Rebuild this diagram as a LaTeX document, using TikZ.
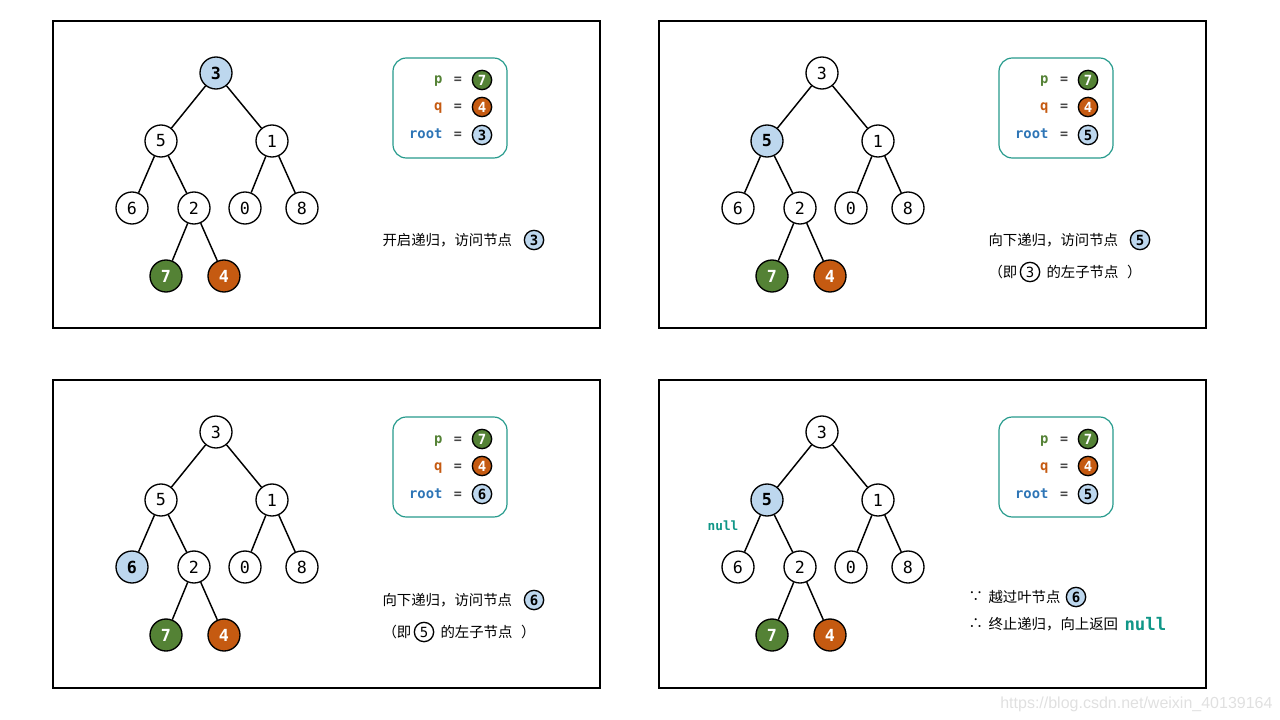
\documentclass[tikz,border=0pt]{standalone}
\usepackage{fontspec}
\setmainfont{Noto Sans CJK SC}
\setmonofont{DejaVu Sans Mono}
\newfontfamily\urlfont{Liberation Sans}
\usetikzlibrary{positioning}

\definecolor{hlblue}{RGB}{189,215,238}
\definecolor{pgreen}{RGB}{84,130,53}
\definecolor{qorange}{RGB}{197,90,17}
\definecolor{boxteal}{RGB}{38,154,140}
\definecolor{rootblue}{RGB}{46,117,182}
\definecolor{nullteal}{RGB}{16,150,135}
\definecolor{eqgray}{RGB}{70,70,70}

\tikzset{every picture/.style={line width=0.75pt}}
\tikzset{
  nd/.style={circle, draw, line width=1pt, fill=white, minimum size=24pt, inner sep=0pt, font=\ttfamily\fontsize{12.5}{14}\selectfont},
  hl/.style={fill=hlblue, font=\ttfamily\bfseries\fontsize{12.5}{14}\selectfont},
  pn/.style={fill=pgreen, text=white, font=\ttfamily\bfseries\fontsize{12.5}{14}\selectfont},
  qn/.style={fill=qorange, text=white, font=\ttfamily\bfseries\fontsize{12.5}{14}\selectfont},
  sm/.style={circle, draw, line width=1pt, fill=white, minimum size=14.5pt, inner sep=0pt, font=\ttfamily\bfseries\fontsize{10.5}{12}\selectfont},
  panel/.style={draw, line width=1.1pt},
  infobox/.style={draw=boxteal, line width=0.9pt, rounded corners=10pt},
  lbl/.style={anchor=base east, inner sep=0pt, font=\ttfamily\bfseries\fontsize{10.4}{12}\selectfont},
  eq/.style={anchor=base, inner sep=0pt, text=eqgray, font=\ttfamily\bfseries\fontsize{10}{12}\selectfont},
  txt/.style={anchor=west, inner sep=0pt, font=\fontsize{10.8}{13}\selectfont},
  edge/.style={line width=1.1pt},
}

\begin{document}
\begin{tikzpicture}[x=0.75pt,y=0.75pt,yscale=-1,xscale=1]
\useasboundingbox (0,0) rectangle (1280,720);

%%% Panel: top left
\draw[panel] (53,21) rectangle (600,328);
% tree
\node[nd, hl] (a3) at (216,73) {3};
\node[nd] (a5) at (161,141) {5};
\node[nd] (a1) at (272,141) {1};
\node[nd] (a6) at (132,208) {6};
\node[nd] (a2) at (194,208) {2};
\node[nd] (a0) at (245,208) {0};
\node[nd] (a8) at (302,208) {8};
\node[nd, pn] (a7) at (166,276) {7};
\node[nd, qn] (a4) at (224,276) {4};
\draw[edge] (a3) -- (a5) (a3) -- (a1) (a5) -- (a6) (a5) -- (a2) (a1) -- (a0) (a1) -- (a8) (a2) -- (a7) (a2) -- (a4);
% info box
\draw[infobox] (393,58) rectangle (507,158);
\node[lbl, text=pgreen] (ap) at (443,84) {p};
\node[eq] (ape) at (458,84) {=};
\node[sm, fill=pgreen, text=white] (apc) at (482,80) {7};
\node[lbl, text=qorange] (aq) at (443,111) {q};
\node[eq] (aqe) at (458,111) {=};
\node[sm, fill=qorange, text=white] (aqc) at (482,107) {4};
\node[lbl, text=rootblue] (ar) at (443,139) {root};
\node[eq] (are) at (458,139) {=};
\node[sm, fill=hlblue] (arc) at (482,135) {3};
% Text Node
\node[txt] (at1) at (382,240) {开启递归，访问节点};
\node[sm, fill=hlblue] (at1c) at (534,240) {3};

%%% Panel: top right
\draw[panel] (659,21) rectangle (1206,328);
% tree
\node[nd] (b3) at (822,73) {3};
\node[nd, hl] (b5) at (767,141) {5};
\node[nd] (b1) at (878,141) {1};
\node[nd] (b6) at (738,208) {6};
\node[nd] (b2) at (800,208) {2};
\node[nd] (b0) at (851,208) {0};
\node[nd] (b8) at (908,208) {8};
\node[nd, pn] (b7) at (772,276) {7};
\node[nd, qn] (b4) at (830,276) {4};
\draw[edge] (b3) -- (b5) (b3) -- (b1) (b5) -- (b6) (b5) -- (b2) (b1) -- (b0) (b1) -- (b8) (b2) -- (b7) (b2) -- (b4);
% info box
\draw[infobox] (999,58) rectangle (1113,158);
\node[lbl, text=pgreen] (bp) at (1049,84) {p};
\node[eq] (bpe) at (1064,84) {=};
\node[sm, fill=pgreen, text=white] (bpc) at (1088,80) {7};
\node[lbl, text=qorange] (bq) at (1049,111) {q};
\node[eq] (bqe) at (1064,111) {=};
\node[sm, fill=qorange, text=white] (bqc) at (1088,107) {4};
\node[lbl, text=rootblue] (br) at (1049,139) {root};
\node[eq] (bre) at (1064,139) {=};
\node[sm, fill=hlblue] (brc) at (1088,135) {5};
% Text Node
\node[txt] (bt1) at (988,240) {向下递归，访问节点};
\node[sm, fill=hlblue] (bt1c) at (1140,240) {5};
\node[txt] (bt2) at (988,272) {（即};
\node[sm, font=\ttfamily\fontsize{10.5}{12}\selectfont] (bt2c) at (1030,272) {3};
\node[txt] (bt3) at (1046,272) {的左子节点\hspace{0.6em}）};

%%% Panel: bottom left
\draw[panel] (53,380) rectangle (600,688);
% tree
\node[nd] (c3) at (216,432) {3};
\node[nd] (c5) at (161,500) {5};
\node[nd] (c1) at (272,500) {1};
\node[nd, hl] (c6) at (132,567) {6};
\node[nd] (c2) at (194,567) {2};
\node[nd] (c0) at (245,567) {0};
\node[nd] (c8) at (302,567) {8};
\node[nd, pn] (c7) at (166,635) {7};
\node[nd, qn] (c4) at (224,635) {4};
\draw[edge] (c3) -- (c5) (c3) -- (c1) (c5) -- (c6) (c5) -- (c2) (c1) -- (c0) (c1) -- (c8) (c2) -- (c7) (c2) -- (c4);
% info box
\draw[infobox] (393,417) rectangle (507,517);
\node[lbl, text=pgreen] (cp) at (443,443) {p};
\node[eq] (cpe) at (458,443) {=};
\node[sm, fill=pgreen, text=white] (cpc) at (482,439) {7};
\node[lbl, text=qorange] (cq) at (443,470) {q};
\node[eq] (cqe) at (458,470) {=};
\node[sm, fill=qorange, text=white] (cqc) at (482,466) {4};
\node[lbl, text=rootblue] (cr) at (443,498) {root};
\node[eq] (cre) at (458,498) {=};
\node[sm, fill=hlblue] (crc) at (482,494) {6};
% Text Node
\node[txt] (ct1) at (382,600) {向下递归，访问节点};
\node[sm, fill=hlblue] (ct1c) at (534,600) {6};
\node[txt] (ct2) at (382,632) {（即};
\node[sm, font=\ttfamily\fontsize{10.5}{12}\selectfont] (ct2c) at (424,632) {5};
\node[txt] (ct3) at (440,632) {的左子节点\hspace{0.6em}）};

%%% Panel: bottom right
\draw[panel] (659,380) rectangle (1206,688);
% tree
\node[nd] (d3) at (822,432) {3};
\node[nd, hl] (d5) at (767,500) {5};
\node[nd] (d1) at (878,500) {1};
\node[nd] (d6) at (738,567) {6};
\node[nd] (d2) at (800,567) {2};
\node[nd] (d0) at (851,567) {0};
\node[nd] (d8) at (908,567) {8};
\node[nd, pn] (d7) at (772,635) {7};
\node[nd, qn] (d4) at (830,635) {4};
\draw[edge] (d3) -- (d5) (d3) -- (d1) (d5) -- (d6) (d5) -- (d2) (d1) -- (d0) (d1) -- (d8) (d2) -- (d7) (d2) -- (d4);
\node[text=nullteal, font=\ttfamily\bfseries\fontsize{9.6}{11}\selectfont] (dnull) at (723,526) {null};
% info box
\draw[infobox] (999,417) rectangle (1113,517);
\node[lbl, text=pgreen] (dp) at (1049,443) {p};
\node[eq] (dpe) at (1064,443) {=};
\node[sm, fill=pgreen, text=white] (dpc) at (1088,439) {7};
\node[lbl, text=qorange] (dq) at (1049,470) {q};
\node[eq] (dqe) at (1064,470) {=};
\node[sm, fill=qorange, text=white] (dqc) at (1088,466) {4};
\node[lbl, text=rootblue] (dr) at (1049,498) {root};
\node[eq] (dre) at (1064,498) {=};
\node[sm, fill=hlblue] (drc) at (1088,494) {5};
% Text Node
\node[txt] (dt1a) at (968,597) {∵};
\node[txt] (dt1) at (988,597) {越过叶节点};
\node[sm, fill=hlblue] (dt1c) at (1076,597) {6};
\node[txt] (dt2a) at (968,624) {∴};
\node[txt] (dt2) at (988,624) {终止递归，向上返回};
\node[anchor=west, inner sep=0pt, text=nullteal, font=\ttfamily\bfseries\fontsize{13}{15}\selectfont] (dt2n) at (1124,624) {null};

% watermark
\node[anchor=east, inner sep=0pt, text=black!12, font=\urlfont\fontsize{12}{14}\selectfont] (wm) at (1273,704) {https://blog.csdn.net/weixin\_40139164};

\end{tikzpicture}
\end{document}
